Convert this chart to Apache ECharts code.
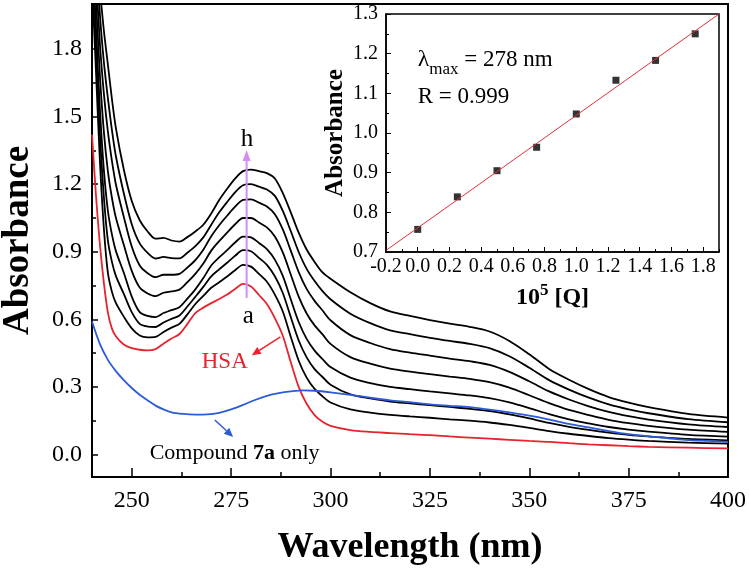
<!DOCTYPE html>
<html><head><meta charset="utf-8">
<script src="https://cdn.jsdelivr.net/npm/echarts@6/dist/echarts.min.js"></script>
<style>html,body{margin:0;padding:0;background:#fff}#c{width:750px;height:569px}</style>
</head><body><div id="c"></div>
<script>
// ---- main spectra (wavelength grid shared by curves a..h) ----
const wavelengths = [240,241,242,243,244,245,246,248,250,252,254,256,258,260,262,264,266,268,270,272,274,276,278,280,282,284,286,288,290,292,294,296,298,300,305,310,315,320,325,330,335,340,345,350,355,360,365,370,375,380,390,400];
const curveA_HSA = [1.42,1.15,0.93,0.76,0.63,0.56,0.525,0.488,0.472,0.465,0.462,0.468,0.492,0.515,0.535,0.58,0.628,0.652,0.672,0.69,0.71,0.735,0.757,0.746,0.708,0.668,0.605,0.527,0.41,0.30,0.225,0.175,0.145,0.127,0.108,0.10,0.095,0.09,0.086,0.08,0.075,0.07,0.065,0.06,0.056,0.05,0.045,0.041,0.037,0.034,0.03,0.027];
const curveB = [2.1,1.7,1.3,1.0,0.806,0.723,0.673,0.612,0.56,0.528,0.52,0.522,0.544,0.563,0.58,0.622,0.668,0.704,0.74,0.765,0.79,0.818,0.842,0.834,0.802,0.767,0.71,0.635,0.523,0.416,0.341,0.291,0.258,0.231,0.20,0.186,0.176,0.169,0.163,0.156,0.150,0.142,0.131,0.118,0.104,0.092,0.082,0.073,0.066,0.06,0.053,0.048];
const curveC = [2.19,1.80,1.42,1.14,0.949,0.856,0.793,0.713,0.632,0.58,0.568,0.566,0.586,0.602,0.617,0.657,0.70,0.744,0.791,0.822,0.851,0.882,0.907,0.902,0.873,0.842,0.791,0.717,0.61,0.506,0.431,0.379,0.344,0.31,0.267,0.249,0.235,0.227,0.219,0.211,0.203,0.193,0.178,0.16,0.14,0.123,0.109,0.097,0.087,0.08,0.069,0.063];
const curveD = [2.28,1.895,1.53,1.26,1.081,0.978,0.904,0.807,0.701,0.632,0.615,0.61,0.628,0.641,0.654,0.692,0.733,0.783,0.839,0.875,0.907,0.941,0.967,0.964,0.939,0.912,0.865,0.793,0.689,0.588,0.513,0.461,0.423,0.388,0.341,0.317,0.30,0.29,0.28,0.271,0.262,0.25,0.231,0.206,0.179,0.156,0.138,0.122,0.11,0.101,0.087,0.079];
const curveE = [2.39,2.02,1.68,1.43,1.257,1.141,1.052,0.931,0.815,0.741,0.715,0.703,0.718,0.724,0.732,0.765,0.802,0.848,0.905,0.947,0.985,1.022,1.05,1.05,1.03,1.008,0.968,0.897,0.799,0.701,0.626,0.573,0.533,0.491,0.432,0.403,0.381,0.368,0.357,0.346,0.336,0.321,0.297,0.263,0.228,0.198,0.175,0.154,0.139,0.127,0.11,0.10];
const curveF = [2.51,2.14,1.82,1.60,1.433,1.305,1.20,1.055,0.923,0.839,0.805,0.787,0.798,0.798,0.802,0.83,0.863,0.909,0.969,1.018,1.06,1.10,1.13,1.133,1.118,1.101,1.067,0.999,0.905,0.81,0.735,0.682,0.639,0.596,0.53,0.495,0.468,0.452,0.439,0.426,0.414,0.398,0.367,0.325,0.28,0.244,0.214,0.189,0.17,0.155,0.134,0.122];
const curveG = [2.60,2.245,1.95,1.74,1.582,1.442,1.325,1.16,1.022,0.937,0.895,0.87,0.877,0.872,0.871,0.896,0.925,0.964,1.02,1.075,1.121,1.164,1.195,1.20,1.189,1.176,1.148,1.081,0.992,0.899,0.824,0.77,0.725,0.689,0.625,0.583,0.551,0.534,0.518,0.504,0.491,0.472,0.436,0.385,0.33,0.288,0.252,0.222,0.20,0.183,0.157,0.143];
const curveH = [2.7,2.35,2.07,1.88,1.73,1.58,1.45,1.265,1.125,1.04,0.99,0.958,0.962,0.95,0.945,0.965,0.99,1.02,1.07,1.13,1.18,1.225,1.258,1.265,1.258,1.249,1.225,1.16,1.075,0.985,0.91,0.855,0.808,0.78,0.72,0.672,0.635,0.615,0.597,0.581,0.567,0.546,0.504,0.445,0.38,0.332,0.29,0.255,0.23,0.21,0.18,0.164];
// ---- compound 7a only ----
const compoundWavelengths = [240,242,244,246,248,250,252,254,256,258,260,263,266,269,272,275,278,281,284,287,290,293,296,300,305,310,315,320,325,330,335,340,345,350,355,360,365,370,375,380,385,390,395,400];
const compound7a = [0.59,0.49,0.42,0.37,0.33,0.295,0.265,0.24,0.217,0.20,0.187,0.18,0.177,0.178,0.185,0.20,0.22,0.242,0.26,0.272,0.28,0.285,0.283,0.276,0.265,0.252,0.24,0.232,0.222,0.216,0.21,0.199,0.187,0.172,0.155,0.136,0.12,0.104,0.09,0.08,0.072,0.064,0.06,0.056];
// ---- inset ----
const insetQ = [0,0.25,0.5,0.75,1.0,1.25,1.5,1.75];
const insetAbs = [0.757,0.839,0.905,0.964,1.048,1.133,1.183,1.250];
const fitQ = [-0.2,1.9];
const fitAbs = [0.704,1.30];
// ---- ticks ----
const mainXLabels = [250,275,300,325,350,375,400];
const mainXMinor = [262.5,287.5,312.5,337.5,362.5,387.5];
const mainYLabels = [0,0.3,0.6,0.9,1.2,1.5,1.8];
const mainYMinor = [0.15,0.45,0.75,1.05,1.35,1.65,1.95];
const insetXLabels = [-0.2,0,0.2,0.4,0.6,0.8,1.0,1.2,1.4,1.6,1.8];
const insetXMinor = [-0.1,0.1,0.3,0.5,0.7,0.9,1.1,1.3,1.5,1.7,1.9];
const insetYLabels = [0.7,0.8,0.9,1.0,1.1,1.2,1.3];
const insetYMinor = [0.75,0.85,0.95,1.05,1.15,1.25];

const SERIF = '"Liberation Serif","DejaVu Serif",serif';
const chart = echarts.init(document.getElementById('c'), null, {renderer:'canvas'});
const pair = (xs, ys) => xs.map((x,i)=>[x, ys[i]]);
const blackCurves = [curveB,curveC,curveD,curveE,curveF,curveG,curveH];

const lineBase = {type:'line', xAxisIndex:0, yAxisIndex:0, showSymbol:false, smooth:0.3, silent:true, animation:false};
const series = [];
blackCurves.forEach(c => series.push(Object.assign({}, lineBase, {data: pair(wavelengths,c), lineStyle:{color:'#000', width:1.8}})));
series.push(Object.assign({}, lineBase, {data: pair(wavelengths,curveA_HSA), lineStyle:{color:'#e8232d', width:1.8}}));
series.push(Object.assign({}, lineBase, {data: pair(compoundWavelengths,compound7a), lineStyle:{color:'#2b5bd6', width:1.8}}));
series.push({type:'line', xAxisIndex:2, yAxisIndex:2, data: pair(fitQ,fitAbs), showSymbol:false, lineStyle:{color:'#e0303c', width:1}, animation:false});
series.push({type:'scatter', xAxisIndex:2, yAxisIndex:2, data: pair(insetQ,insetAbs), symbol:'rect', symbolSize:7, itemStyle:{color:'#000'}, animation:false});

function minorAxis(gi, pos, min, max, vals, len, w){
  return {type:'value', gridIndex:gi, position:pos, min:min, max:max, axisLine:{show:false, onZero:false},
    axisTick:{inside:true, length:len, lineStyle:{color:'#000', width:w}, customValues:vals},
    axisLabel:{show:false}, splitLine:{show:false}};
}

const option = {
  backgroundColor:'#fff',
  animation:false,
  grid:[
    {left:92, top:4, right:22, bottom:92, outerBoundsMode:'none', containLabel:false, show:true, borderColor:'#000', borderWidth:2, backgroundColor:'transparent'},
    {left:386, top:14, right:31, bottom:317, outerBoundsMode:'none', containLabel:false, show:true, borderColor:'#000', borderWidth:1.5, backgroundColor:'transparent'}
  ],
  xAxis:[
    {type:'value', gridIndex:0, position:'bottom', min:240, max:400,
     axisLine:{onZero:false, lineStyle:{color:'#000', width:2}},
     axisTick:{inside:true, length:9, lineStyle:{color:'#000', width:1.5}, customValues:mainXLabels},
     axisLabel:{customValues:mainXLabels, color:'#000', fontFamily:SERIF, fontSize:24, margin:12},
     splitLine:{show:false},
     name:'Wavelength (nm)', nameLocation:'middle', nameGap:53,
     nameTextStyle:{fontFamily:SERIF, fontSize:36, fontWeight:'bold', color:'#000'}},
    minorAxis(0, 'bottom', 240, 400, mainXMinor, 5, 1.5),
    {type:'value', gridIndex:1, position:'bottom', min:-0.2, max:1.9,
     axisLine:{onZero:false, lineStyle:{color:'#000', width:1.5}},
     axisTick:{inside:true, length:5, lineStyle:{color:'#000'}, customValues:insetXLabels},
     axisLabel:{customValues:insetXLabels, color:'#000', fontFamily:SERIF, fontSize:20, margin:5, formatter:v=>v.toFixed(1)},
     splitLine:{show:false},
     name:'{a|10}{s|5}{a| [Q]}', nameLocation:'middle', nameGap:30,
     nameTextStyle:{rich:{a:{fontFamily:SERIF, fontSize:24, fontWeight:'bold', color:'#000', verticalAlign:'bottom', lineHeight:28},
                          s:{fontFamily:SERIF, fontSize:17, fontWeight:'bold', color:'#000', verticalAlign:'top', lineHeight:28}}}},
    minorAxis(1, 'bottom', -0.2, 1.9, insetXMinor, 3, 1)
  ],
  yAxis:[
    {type:'value', gridIndex:0, position:'left', min:-0.1, max:2.0,
     axisLine:{onZero:false, lineStyle:{color:'#000', width:2}},
     axisTick:{inside:true, length:6, lineStyle:{color:'#000', width:1.5}, customValues:mainYLabels},
     axisLabel:{customValues:mainYLabels, color:'#000', fontFamily:SERIF, fontSize:24, margin:10, formatter:v=>v.toFixed(1)},
     splitLine:{show:false},
     name:'Absorbance', nameLocation:'middle', nameGap:55,
     nameTextStyle:{fontFamily:SERIF, fontSize:37, fontWeight:'bold', color:'#000'}},
    minorAxis(0, 'left', -0.1, 2.0, mainYMinor, 4, 1.5),
    {type:'value', gridIndex:1, position:'left', min:0.7, max:1.3,
     axisLine:{onZero:false, lineStyle:{color:'#000', width:1.5}},
     axisTick:{inside:true, length:5, lineStyle:{color:'#000'}, customValues:insetYLabels},
     axisLabel:{customValues:insetYLabels, color:'#000', fontFamily:SERIF, fontSize:20, margin:8, formatter:v=>v.toFixed(1)},
     splitLine:{show:false},
     name:'Absorbance', nameLocation:'middle', nameGap:38,
     nameTextStyle:{fontFamily:SERIF, fontSize:25, fontWeight:'bold', color:'#000'}},
    minorAxis(1, 'left', 0.7, 1.3, insetYMinor, 3, 1)
  ],
  series: series
};
chart.setOption(option);

const mainIdx = 0, insetIdx = series.length - 1;
const P = (p) => chart.convertToPixel({seriesIndex:mainIdx}, p);
const Q = (p) => chart.convertToPixel({seriesIndex:insetIdx}, p);
function arrow(a, b, color, w, hl, hw){
  const dx=b[0]-a[0], dy=b[1]-a[1], L=Math.hypot(dx,dy), ux=dx/L, uy=dy/L;
  const bx=b[0]-ux*hl, by=b[1]-uy*hl;
  return [
    {type:'line', z:100, shape:{x1:a[0],y1:a[1],x2:bx,y2:by}, style:{stroke:color, lineWidth:w}},
    {type:'polygon', z:100, shape:{points:[[b[0],b[1]],[bx-uy*hw/2, by+ux*hw/2],[bx+uy*hw/2, by-ux*hw/2]]}, style:{fill:color}}
  ];
}
function txt(p, text, size, color, align){
  return {type:'text', z:100, x:p[0], y:p[1], style:{text:text, fill:color, font:size+'px '+SERIF, align:align, verticalAlign:'middle'}};
}
const g = [];
g.push(...arrow(P([278.9,0.695]), P([278.9,1.352]), '#d88cf0', 2, 11, 8));
g.push(...arrow(P([287.4,0.522]), P([280.2,0.441]), '#e8232d', 1.5, 9, 8));
g.push(...arrow(P([270.9,0.153]), P([275.5,0.078]), '#2b5bd6', 1.5, 9, 8));
g.push(txt(P([279.0,1.397]), 'h', 25, '#000', 'center'));
g.push(txt(P([279.3,0.612]), 'a', 25, '#000', 'center'));
g.push(txt(P([273.4,0.41]), 'HSA', 23, '#e8232d', 'center'));
const cp = P([254.5,0.004]);
g.push({type:'text', z:100, x:cp[0], y:cp[1], style:{text:'Compound {b|7a} only', fill:'#000', font:'22px '+SERIF, align:'left', verticalAlign:'middle',
  rich:{b:{fontFamily:SERIF, fontSize:22, fontWeight:'bold', fill:'#000', color:'#000'}}}});
const lp = Q([0.0,1.176]);
g.push({type:'text', z:100, x:lp[0], y:lp[1], style:{text:'{l|λ}{s|max}{n| = 278 nm}', align:'left', verticalAlign:'middle',
  rich:{l:{fontFamily:SERIF, fontSize:24, color:'#000', verticalAlign:'top', lineHeight:30},
        s:{fontFamily:SERIF, fontSize:17, color:'#000', verticalAlign:'bottom', lineHeight:30},
        n:{fontFamily:SERIF, fontSize:23, color:'#000', verticalAlign:'top', lineHeight:30}}}});
g.push(txt(Q([0.0,1.091]), 'R = 0.999', 23, '#000', 'left'));
chart.setOption({graphic: g});
</script></body></html>
